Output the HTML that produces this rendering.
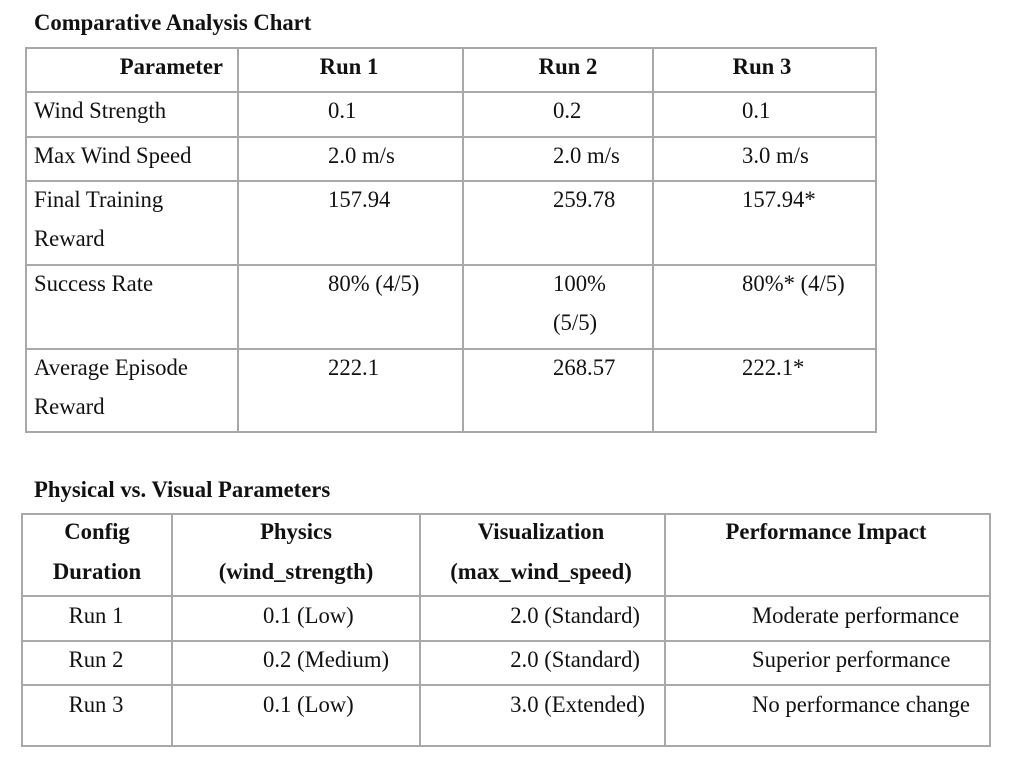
<!DOCTYPE html>
<html><head><meta charset="utf-8"><style>
body{margin:0;width:1024px;height:771px;background:#fff;position:relative;overflow:hidden;font-family:"Liberation Serif","DejaVu Serif",serif;font-size:22.7px;color:#111}
.h{position:absolute;height:2px;background:#a9a9a9}
.v{position:absolute;width:2px;background:#a9a9a9}
.t{position:absolute;line-height:22px;white-space:nowrap}
.b{font-weight:bold}
.c{transform:translateX(-50%)}
</style></head><body>
<div class="t b" style="left:34px;top:12px">Comparative Analysis Chart</div>
<div class="h" style="left:25px;width:852px;top:47px"></div>
<div class="h" style="left:25px;width:852px;top:91px"></div>
<div class="h" style="left:25px;width:852px;top:136px"></div>
<div class="h" style="left:25px;width:852px;top:180px"></div>
<div class="h" style="left:25px;width:852px;top:264px"></div>
<div class="h" style="left:25px;width:852px;top:348px"></div>
<div class="h" style="left:25px;width:852px;top:431px"></div>
<div class="v" style="left:25px;top:47px;height:386px"></div>
<div class="v" style="left:237px;top:47px;height:386px"></div>
<div class="v" style="left:462px;top:47px;height:386px"></div>
<div class="v" style="left:652px;top:47px;height:386px"></div>
<div class="v" style="left:875px;top:47px;height:386px"></div>
<div class="t b" style="right:801px;top:56px">Parameter</div>
<div class="t b c" style="left:349px;top:56px">Run 1</div>
<div class="t b c" style="left:568px;top:56px">Run 2</div>
<div class="t b c" style="left:762px;top:56px">Run 3</div>
<div class="t" style="left:34px;top:100px">Wind Strength</div>
<div class="t" style="left:328px;top:100px">0.1</div>
<div class="t" style="left:553px;top:100px">0.2</div>
<div class="t" style="left:742px;top:100px">0.1</div>
<div class="t" style="left:34px;top:145px">Max Wind Speed</div>
<div class="t" style="left:328px;top:145px">2.0 m/s</div>
<div class="t" style="left:553px;top:145px">2.0 m/s</div>
<div class="t" style="left:742px;top:145px">3.0 m/s</div>
<div class="t" style="left:34px;top:189px">Final Training</div>
<div class="t" style="left:34px;top:228px">Reward</div>
<div class="t" style="left:328px;top:189px">157.94</div>
<div class="t" style="left:553px;top:189px">259.78</div>
<div class="t" style="left:742px;top:189px">157.94*</div>
<div class="t" style="left:34px;top:273px">Success Rate</div>
<div class="t" style="left:328px;top:273px">80% (4/5)</div>
<div class="t" style="left:553px;top:273px">100%</div>
<div class="t" style="left:553px;top:312px">(5/5)</div>
<div class="t" style="left:742px;top:273px">80%* (4/5)</div>
<div class="t" style="left:34px;top:357px">Average Episode</div>
<div class="t" style="left:34px;top:396px">Reward</div>
<div class="t" style="left:328px;top:357px">222.1</div>
<div class="t" style="left:553px;top:357px">268.57</div>
<div class="t" style="left:742px;top:357px">222.1*</div>

<div class="t b" style="left:34px;top:479px">Physical vs. Visual Parameters</div>
<div class="h" style="left:21px;width:970px;top:513px"></div>
<div class="h" style="left:21px;width:970px;top:595px"></div>
<div class="h" style="left:21px;width:970px;top:640px"></div>
<div class="h" style="left:21px;width:970px;top:684px"></div>
<div class="h" style="left:21px;width:970px;top:745px"></div>
<div class="v" style="left:21px;top:513px;height:234px"></div>
<div class="v" style="left:171px;top:513px;height:234px"></div>
<div class="v" style="left:419px;top:513px;height:234px"></div>
<div class="v" style="left:664px;top:513px;height:234px"></div>
<div class="v" style="left:989px;top:513px;height:234px"></div>
<div class="t b c" style="left:97px;top:521px">Config</div>
<div class="t b c" style="left:97px;top:561px">Duration</div>
<div class="t b c" style="left:296px;top:521px">Physics</div>
<div class="t b c" style="left:296px;top:561px">(wind_strength)</div>
<div class="t b c" style="left:541px;top:521px">Visualization</div>
<div class="t b c" style="left:541px;top:561px">(max_wind_speed)</div>
<div class="t b c" style="left:826px;top:521px">Performance Impact</div>
<div class="t c" style="left:96px;top:605px">Run 1</div>
<div class="t c" style="left:96px;top:649px">Run 2</div>
<div class="t c" style="left:96px;top:694px">Run 3</div>
<div class="t" style="left:263px;top:605px">0.1 (Low)</div>
<div class="t" style="left:263px;top:649px">0.2 (Medium)</div>
<div class="t" style="left:263px;top:694px">0.1 (Low)</div>
<div class="t" style="right:384px;top:605px">2.0 (Standard)</div>
<div class="t" style="right:384px;top:649px">2.0 (Standard)</div>
<div class="t" style="right:379px;top:694px">3.0 (Extended)</div>
<div class="t" style="left:752px;top:605px">Moderate performance</div>
<div class="t" style="left:752px;top:649px">Superior performance</div>
<div class="t" style="left:752px;top:694px">No performance change</div>
</body></html>
